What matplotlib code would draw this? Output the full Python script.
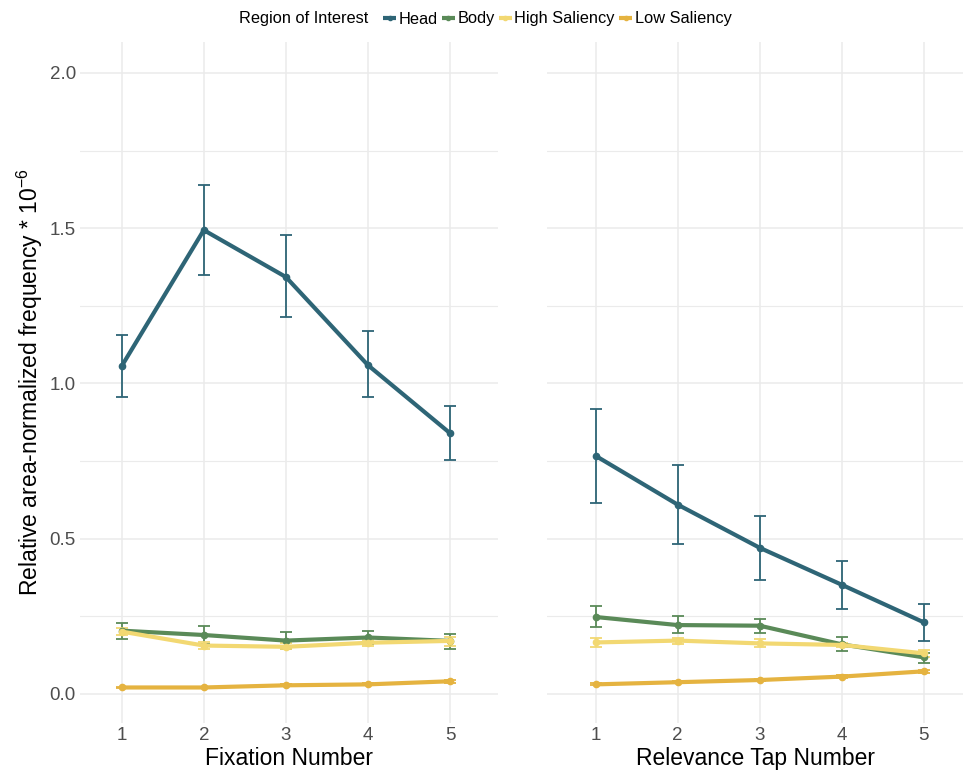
import matplotlib
matplotlib.use("Agg")
import matplotlib.pyplot as plt
from matplotlib.lines import Line2D
import numpy as np

plt.rcParams['font.family'] = ['Liberation Sans', 'DejaVu Sans']
plt.rcParams['mathtext.fontset'] = 'custom'
plt.rcParams['mathtext.rm'] = 'Liberation Sans'
plt.rcParams['mathtext.it'] = 'Liberation Sans:italic'
plt.rcParams['mathtext.bf'] = 'Liberation Sans:bold'

x = [1, 2, 3, 4, 5]
regions = ["Head", "Body", "High Saliency", "Low Saliency"]
colors = ["#2E6576", "#5A8A58", "#F2D872", "#E5B340"]

# Fixation Number panel: mean, lower, upper
fix_head = [1.056, 1.494, 1.343, 1.059, 0.840]
fix_head_lo = [0.956, 1.349, 1.214, 0.956, 0.753]
fix_head_hi = [1.156, 1.639, 1.478, 1.169, 0.927]
fix_body = [0.204, 0.190, 0.172, 0.182, 0.171]
fix_body_lo = [0.177, 0.160, 0.144, 0.160, 0.145]
fix_body_hi = [0.230, 0.218, 0.199, 0.203, 0.193]
fix_high = [0.201, 0.156, 0.152, 0.165, 0.171]
fix_high_lo = [0.189, 0.144, 0.144, 0.156, 0.156]
fix_high_hi = [0.211, 0.167, 0.163, 0.174, 0.182]
fix_low = [0.021, 0.021, 0.028, 0.031, 0.041]
fix_low_lo = [0.018, 0.018, 0.025, 0.028, 0.037]
fix_low_hi = [0.024, 0.024, 0.031, 0.034, 0.045]

# Relevance Tap Number panel
tap_head = [0.767, 0.610, 0.471, 0.352, 0.231]
tap_head_lo = [0.615, 0.483, 0.368, 0.274, 0.170]
tap_head_hi = [0.918, 0.736, 0.574, 0.429, 0.290]
tap_body = [0.248, 0.222, 0.220, 0.160, 0.118]
tap_body_lo = [0.215, 0.195, 0.197, 0.139, 0.099]
tap_body_hi = [0.283, 0.251, 0.242, 0.182, 0.131]
tap_high = [0.166, 0.172, 0.163, 0.158, 0.131]
tap_high_lo = [0.152, 0.162, 0.152, 0.150, 0.120]
tap_high_hi = [0.180, 0.181, 0.176, 0.165, 0.142]
tap_low = [0.031, 0.038, 0.045, 0.056, 0.073]
tap_low_lo = [0.028, 0.035, 0.042, 0.052, 0.069]
tap_low_hi = [0.034, 0.041, 0.048, 0.060, 0.077]

panels = [
    ("Fixation Number",
     [(fix_head, fix_head_lo, fix_head_hi), (fix_body, fix_body_lo, fix_body_hi),
      (fix_high, fix_high_lo, fix_high_hi), (fix_low, fix_low_lo, fix_low_hi)]),
    ("Relevance Tap Number",
     [(tap_head, tap_head_lo, tap_head_hi), (tap_body, tap_body_lo, tap_body_hi),
      (tap_high, tap_high_lo, tap_high_hi), (tap_low, tap_low_lo, tap_low_hi)]),
]

W, H = 963, 772
fig = plt.figure(figsize=(W / 100, H / 100), dpi=100)

boxes = [(80, 498.3, (0.492, 5.588)), (547, 963, (0.407, 5.48))]
top_px, bot_px = 42, 723

grid_c = "#EBEBEB"
tick_c = "#4D4D4D"

for i, ((xlabel, series), (lpx, rpx, xl)) in enumerate(zip(panels, boxes)):
    ax = fig.add_axes([lpx / W, 1 - bot_px / H, (rpx - lpx) / W, (bot_px - top_px) / H])
    ax.set_xlim(*xl)
    ax.set_ylim(-0.0934, 2.0998)
    for s in ax.spines.values():
        s.set_visible(False)
    ax.set_xticks(x)
    ax.set_yticks([0, 0.5, 1.0, 1.5, 2.0])
    ax.set_yticks([0.25, 0.75, 1.25, 1.75], minor=True)
    ax.grid(True, which='major', color=grid_c, lw=1.1)
    ax.grid(True, which='minor', axis='y', color=grid_c, lw=0.8)
    ax.set_axisbelow(True)
    ax.tick_params(which='both', length=0, labelsize=13.5, labelcolor=tick_c, pad=3)
    if i == 0:
        ax.set_yticklabels(["0.0", "0.5", "1.0", "1.5", "2.0"])
        ax.tick_params(axis='y', pad=3)
        ax.set_ylabel(r"Relative area-normalized frequency * 10$^{-6}$", fontsize=16.5, labelpad=3)
    else:
        ax.set_yticklabels([])
    ax.set_xlabel(xlabel, fontsize=16.5, labelpad=2)

    for (m, lo, hi), c in zip(series, colors):
        m = np.array(m); lo = np.array(lo); hi = np.array(hi)
        ax.errorbar(x, m, yerr=[m - lo, hi - m], fmt='none', ecolor=c,
                    elinewidth=1.3, capsize=4.5, capthick=1.3, zorder=2)
    for (m, lo, hi), c in zip(series, colors):
        ax.plot(x, m, color=c, lw=3.0, marker='o', ms=4.5, zorder=3,
                solid_capstyle='butt')

fig.text(239 / W, 1 - 19 / H, "Region of Interest", fontsize=11.8, va='center', ha='left')
handles = [Line2D([0], [0], color=c, lw=3, marker='o', ms=3.0, solid_capstyle='butt')
           for c in colors]
fig.legend(handles, regions, loc='center left', bbox_to_anchor=(383 / W, 1 - 19 / H),
           ncol=4, frameon=False, fontsize=11.8, handlelength=0.8,
           handletextpad=0.15, columnspacing=0.25, borderaxespad=0, borderpad=0)

fig.savefig("out.png", dpi=100)
